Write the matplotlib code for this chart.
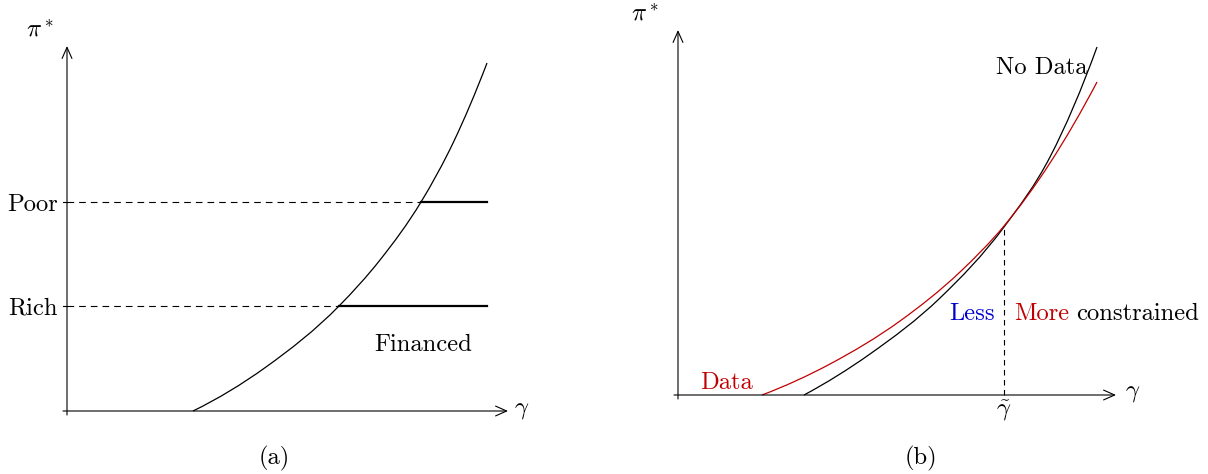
import matplotlib.pyplot as plt
from matplotlib.path import Path
from matplotlib.patches import PathPatch

plt.rcParams.update({
    "font.family": "serif",
    "font.serif": ["cmr10", "DejaVu Serif"],
    "mathtext.fontset": "cm",
    "axes.formatter.use_mathtext": True,
    "font.size": 17.7,
})

RED = "#c00000"
BLUE = "#0000cc"

# (a) optimal share vs risk aversion, with wealth cutoffs
gamma_a = [12.6, 19.9, 27.2, 31.3, 35.4, 38.7, 42.0]
pi_a = [0.0, 4.4, 10.5, 15.1, 20.9, 27.0, 34.8]
levels = {"Poor": 20.9, "Rich": 10.5}
cross_x = {"Poor": 35.4, "Rich": 27.2}

# (b) data vs no-data curves
gamma_nd = [12.6, 19.2, 26.2, 32.6, 37.2, 41.9]
pi_nd = [0.0, 4.1, 9.7, 16.8, 23.8, 34.8]
gamma_d = [8.4, 15.2, 22.2, 28.2, 32.6, 37.2, 41.9]
pi_d = [0.0, 3.1, 7.4, 12.3, 16.9, 23.2, 31.3]
gamma_tilde = 32.6
pi_tilde = 16.9


def smooth_curve(ax, xs, ys, **kw):
    # cubic Hermite through the points (y as a function of x), as Bezier segments
    n = len(xs)
    h = [xs[i + 1] - xs[i] for i in range(n - 1)]
    s = [(ys[i + 1] - ys[i]) / h[i] for i in range(n - 1)]
    m = [0.0] * n
    for i in range(1, n - 1):
        m[i] = (s[i - 1] * h[i] + s[i] * h[i - 1]) / (h[i - 1] + h[i])
    m[0] = max(0.0, 2 * s[0] - m[1])
    m[-1] = 2 * s[-1] - m[-2]
    verts = [(xs[0], ys[0])]
    codes = [Path.MOVETO]
    for i in range(n - 1):
        d = h[i] / 3
        verts += [(xs[i] + d, ys[i] + m[i] * d),
                  (xs[i + 1] - d, ys[i + 1] - m[i + 1] * d),
                  (xs[i + 1], ys[i + 1])]
        codes += [Path.CURVE4] * 3
    ax.add_patch(PathPatch(Path(verts, codes), fill=False, **kw))


def draw_axes(ax, xmax, ymax):
    arrow = dict(arrowstyle="->,head_length=0.45,head_width=0.2", lw=0.8, color="black",
                 shrinkA=0, shrinkB=0)
    ax.annotate("", xy=(xmax, 0), xytext=(-0.4, 0), arrowprops=arrow)
    ax.annotate("", xy=(0, ymax), xytext=(0, -0.4), arrowprops=arrow)
    ax.axis("off")


fig = plt.figure(figsize=(12.08, 4.74), dpi=100)
ax_a = fig.add_axes([0, 0, 0.5, 1])
ax_b = fig.add_axes([0.5, 0, 0.5, 1])
ax_a.set_xlim(-6.7, 53.7)
ax_a.set_ylim(-6.3, 41.1)
ax_b.set_xlim(-7.4, 53.0)
ax_b.set_ylim(-7.9, 39.5)

draw_axes(ax_a, 44.1, 36.5)
smooth_curve(ax_a, gamma_a, pi_a, edgecolor="black", lw=0.9)
for name, y in levels.items():
    ax_a.plot([0, cross_x[name]], [y, y], color="black", lw=0.8, dashes=(6, 4.5))
    ax_a.plot([cross_x[name], gamma_a[-1]], [y, y], color="black", lw=1.6)
    ax_a.plot([-0.4, 0], [y, y], color="black", lw=0.8)
    ax_a.text(-0.9, y, name, ha="right", va="center_baseline")
ax_a.text(35.65, 6.9, "Financed", ha="center", va="center_baseline")
ax_a.text(-2.7, 38.1, r"$\pi^*$", ha="center", va="center")
ax_a.text(45.5, 0.1, r"$\gamma$", ha="center", va="center")
ax_a.text(20.7, -4.7, "(a)", ha="center", va="center")

draw_axes(ax_b, 43.8, 36.5)
smooth_curve(ax_b, gamma_nd, pi_nd, edgecolor="black", lw=0.9)
smooth_curve(ax_b, gamma_d, pi_d, edgecolor=RED, lw=0.9)
ax_b.plot([gamma_tilde, gamma_tilde], [0, pi_tilde], color="black", lw=0.8, dashes=(5, 4))
ax_b.text(36.4, 33.0, "No Data", ha="center", va="center_baseline")
ax_b.text(4.9, 1.5, "Data", ha="center", va="center_baseline", color=RED)
ax_b.text(31.7, 8.4, "Less", ha="right", va="center_baseline", color=BLUE)
ax_b.text(33.6, 8.4, "More", ha="left", va="center_baseline", color=RED)
ax_b.text(52.1, 8.4, "constrained", ha="right", va="center_baseline")
ax_b.text(-3.3, 38.1, r"$\pi^*$", ha="center", va="center")
ax_b.text(45.5, 0.2, r"$\gamma$", ha="center", va="center")
ax_b.text(gamma_tilde, -1.6, r"$\tilde{\gamma}$", ha="center", va="center")
ax_b.text(24.3, -6.3, "(b)", ha="center", va="center")

fig.savefig("out.png", dpi=100)
